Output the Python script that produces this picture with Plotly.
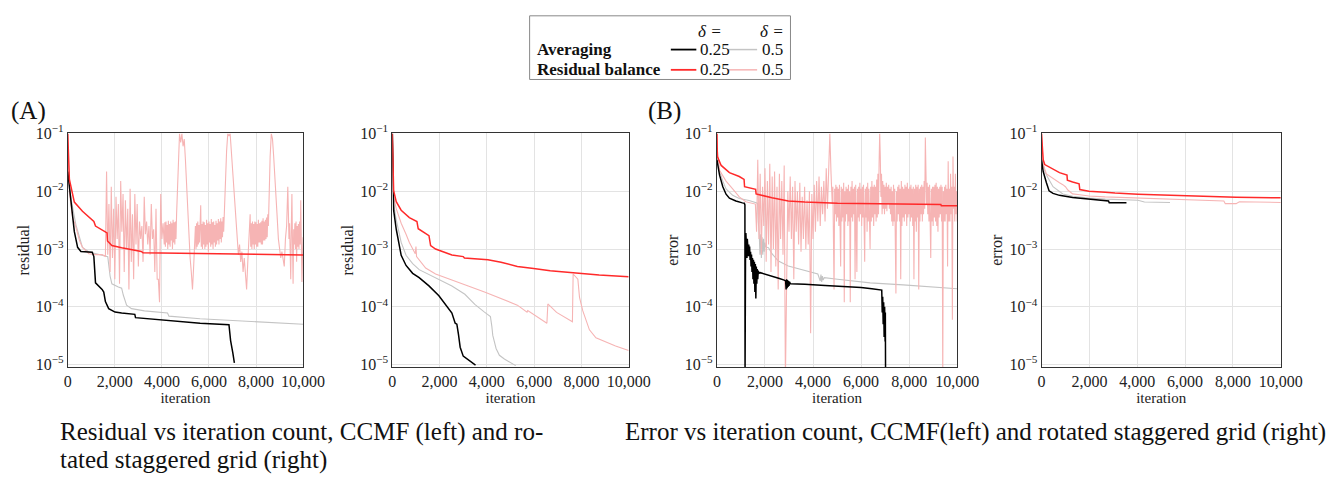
import plotly.graph_objects as go

# ---------------- data ----------------
# Panel A-left: residual, CCMF
res_ccmf_avg25_x = [0, 140, 280, 420, 560, 1040, 1110, 1180, 1320, 1460, 1530, 1600, 1740, 2010, 2290, 2850, 2880, 3960, 5625, 6850, 6920, 7014, 7080]
res_ccmf_avg25_y = [2.2e-2, 6.5e-3, 2e-3, 1.07e-3, 9.1e-4, 8.8e-4, 7.4e-4, 2.6e-4, 2.3e-4, 2e-4, 1.8e-4, 1.23e-4, 9.3e-5, 8.1e-5, 7.8e-5, 7.4e-5, 6.5e-5, 5.9e-5, 5.2e-5, 4.9e-5, 2.6e-5, 1.6e-5, 1.07e-5]

res_ccmf_avg5_x = [0, 140, 350, 625, 900, 1460, 1700, 1800, 1875, 2150, 2290, 2360, 2500, 2710, 3260, 4240, 4300, 5625, 7700, 10000]
res_ccmf_avg5_y = [2.2e-2, 7.4e-3, 2.6e-3, 1.07e-3, 8.9e-4, 7.9e-4, 7.4e-4, 3.4e-4, 2.5e-4, 2.2e-4, 2.1e-4, 1.6e-4, 1.07e-4, 9.3e-5, 8.5e-5, 7.8e-5, 6.9e-5, 6.2e-5, 5.6e-5, 5e-5]

res_ccmf_rb25_x = [0, 30, 70, 280, 625, 1110, 1180, 1670, 1690, 1875, 2290, 3125, 3200, 3960, 5625, 9236, 9300, 10000]
res_ccmf_rb25_y = [1e-1, 3e-2, 1.6e-2, 6.5e-3, 4.5e-3, 3e-3, 2.5e-3, 1.9e-3, 1.38e-3, 1.15e-3, 1.05e-3, 9.1e-4, 8.6e-4, 8.5e-4, 8.3e-4, 8.1e-4, 7.9e-4, 7.9e-4]

res_ccmf_rb5_x = ([0, 30, 70, 210, 300, 500, 625, 900, 1200, 1460, 1600]
    + list(range(1650, 4100, 50)) + list(range(4100, 4650, 25)) + list(range(4650, 5400, 50))
    + list(range(5400, 6650, 25)) + list(range(6650, 7700, 50)) + list(range(7700, 8550, 25))
    + list(range(8550, 9400, 50)) + list(range(9400, 10001, 25)))
res_ccmf_rb5_y = [1e-1, 2.5e-2, 9.5e-3, 3.4e-3, 2.8e-3, 1.4e-3, 1.07e-3, 8.3e-4, 8e-4, 8e-4, 7.5e-4,
    # 1650-4050
    2.2e-2, 8e-4, 6e-3, 4e-4, 1.2e-2, 7e-4, 5e-3, 3e-4, 8e-3, 1.5e-3,
    6e-3, 2.5e-4, 1.5e-2, 2e-3, 9e-3, 4e-4, 7e-3, 1e-3, 5e-3, 2e-4,
    1.1e-2, 6e-4, 4e-3, 3e-4, 9e-3, 1.2e-3, 6e-3, 5e-4, 3e-3, 1.5e-3,
    2.5e-3, 6e-4, 8e-3, 1.8e-3, 3e-3, 1.2e-3, 2.5e-3, 8e-4, 6e-3, 1.5e-3,
    2.2e-3, 4e-4, 5e-3, 3e-4, 3e-4, 1.2e-4, 9e-3, 1.5e-3, 2.8e-3,
    # 4100-4625
    1.2e-3, 2.9e-3, 1.1e-3, 3e-3, 1.3e-3, 2.6e-3, 1.0e-3, 3.1e-3, 1.2e-3, 2.7e-3,
    1.1e-3, 3e-3, 1.4e-3, 2.8e-3, 1.0e-3, 3.2e-3, 1.3e-3, 2.9e-3, 1.2e-3, 3e-3,
    1.5e-3, 4e-3,
    # 4650-5350
    8e-3, 4e-2, 1e-1, 7e-2, 1e-1, 6e-2, 8e-2, 3.5e-2, 1.2e-2, 4e-3, 1.5e-3, 7e-4, 4e-4, 2e-4, 5e-4,
    # 5400-6625
    1.5e-3, 2.5e-3, 1e-3, 2.8e-3, 1.1e-3, 3e-3, 1.2e-3, 2.6e-3, 1.3e-3, 3.1e-3,
    5.7e-3, 1.1e-3, 2.7e-3, 1e-3, 3e-3, 1.2e-3, 2.9e-3, 1e-3, 2.6e-3, 1.1e-3,
    3.2e-3, 1.2e-3, 2.8e-3, 9e-4, 3e-3, 1.3e-3, 2.7e-3, 1.1e-3, 3.3e-3, 1.2e-3,
    2.9e-3, 1e-3, 3e-3, 1.3e-3, 2.6e-3, 1.1e-3, 3.1e-3, 1.2e-3, 2.8e-3, 1.4e-3,
    3.3e-3, 1.2e-3, 3e-3, 1.5e-3, 3.4e-3, 1.3e-3, 3e-3, 1.6e-3, 3.6e-3, 2e-3,
    # 6650-7650
    4e-3, 1.5e-2, 5e-2, 1e-1, 9e-2, 1e-1, 5e-2, 3e-2, 1.5e-2, 6e-3,
    3e-3, 1.5e-3, 8e-4, 1.2e-3, 6e-4, 9e-4, 4e-4, 7e-4, 3e-4, 2e-4, 6e-4,
    # 7700-8525
    1.5e-3, 2.5e-3, 4e-3, 1.1e-3, 2.8e-3, 1e-3, 3e-3, 1.2e-3, 2.7e-3, 1e-3,
    3e-3, 1.2e-3, 2.9e-3, 1.1e-3, 2.7e-3, 1.1e-3, 3.2e-3, 1.3e-3, 2.8e-3, 1.3e-3,
    2.9e-3, 1.2e-3, 3.1e-3, 1.2e-3, 3.4e-3, 1.4e-3, 3e-3, 1.4e-3, 3.2e-3, 1.5e-3,
    3.5e-3, 1.6e-3, 4e-3, 2.5e-3,
    # 8550-9350
    9e-3, 4e-2, 1e-1, 8e-2, 4e-2, 2e-2, 8e-3, 3.5e-3, 1.5e-3, 1e-3,
    7e-4, 9e-4, 6e-4, 5e-4, 1.5e-3, 2.5e-3, 1.2e-2,
    # 9400-10000
    1.5e-3, 2.8e-3, 1.2e-3, 3e-4, 2.5e-3, 9e-3, 1.3e-3, 2.5e-4, 2.2e-3, 1.2e-3,
    2.8e-3, 1e-3, 3e-3, 6e-4, 2.5e-3, 1.1e-3, 2.7e-3, 1e-3, 3e-3, 1.2e-3,
    7e-3, 1.5e-3, 2.7e-4, 8e-4, 1.6e-3]

# Panel A-right: residual, rotated staggered grid
res_rsg_avg25_x = [0, 20, 55, 166, 277, 374, 580, 860, 1135, 1550, 1970, 2315, 2520, 2660, 2730, 2800, 2870, 3000, 3210, 3380, 3520]
res_rsg_avg25_y = [1e-1, 2e-2, 4.7e-3, 2.2e-3, 1.15e-3, 7.8e-4, 5.2e-4, 3.8e-4, 3.2e-4, 2.3e-4, 1.55e-4, 1e-4, 7.8e-5, 5.2e-5, 5e-5, 3.3e-5, 2e-5, 1.4e-5, 1.2e-5, 1.05e-5, 9.8e-6]

res_rsg_avg5_x = [0, 20, 55, 166, 374, 580, 860, 1135, 1830, 2520, 3070, 3490, 3900, 4150, 4210, 4250, 4390, 4530, 4740, 5010, 5220]
res_rsg_avg5_y = [1e-1, 2.5e-2, 6e-3, 3.2e-3, 1.3e-3, 7.8e-4, 5.6e-4, 4.4e-4, 3.2e-4, 2.3e-4, 1.65e-4, 1.1e-4, 8.1e-5, 6.8e-5, 4.6e-5, 3.2e-5, 1.9e-5, 1.45e-5, 1.25e-5, 1.07e-5, 9.6e-6]

res_rsg_rb25_x = [0, 55, 166, 374, 720, 1040, 1095, 1550, 1620, 1830, 2520, 3000, 3050, 4045, 4600, 5290, 5980, 6680, 7650, 8750, 10000]
res_rsg_rb25_y = [1e-1, 1.02e-2, 6.6e-3, 4.7e-3, 3.5e-3, 3e-3, 2.25e-3, 1.7e-3, 1.15e-3, 1e-3, 7.9e-4, 7.4e-4, 7e-4, 6.5e-4, 5.9e-4, 5e-4, 4.6e-4, 4.2e-4, 3.9e-4, 3.55e-4, 3.3e-4]

res_rsg_rb5_x = [0, 55, 166, 374, 580, 720, 970, 1000, 1025, 1410, 1830, 2520, 3210, 3900, 4320, 5290, 5700, 5730, 6540, 6580, 6950, 7620, 7650, 7850, 7920, 8060, 8340, 8615, 9445, 10000]
res_rsg_rb5_y = [1e-1, 7.9e-3, 5e-3, 2.8e-3, 1.8e-3, 1.3e-3, 8.3e-4, 1.1e-3, 7.4e-4, 4.7e-4, 3.7e-4, 2.95e-4, 2.3e-4, 1.8e-4, 1.55e-4, 1.07e-4, 8.1e-5, 8.6e-5, 5.2e-5, 1.12e-4, 8e-5, 5.5e-5, 3.7e-4, 3e-4, 1.45e-4, 8.5e-5, 4e-5, 2.9e-5, 2.1e-5, 1.75e-5]

# Panel B-left: error, CCMF
err_ccmf_avg25_x = [0, 60, 110, 245, 380, 520, 790, 1060, 1140, 1165, 1170, 1175, 1190, 1205, 1220, 1235, 1250, 1265, 1280, 1295, 1310, 1325,
    1340, 1360, 1380, 1400, 1420, 1440, 1460, 1480, 1500, 1520, 1540, 1560, 1580, 1600, 1620, 1640, 1660, 1680, 1700, 1720, 1750, 1800,
    1900, 2000, 2200, 2400, 2600, 2800, 2860, 2880, 2900, 2920, 2940, 2960, 2980, 3000, 3020, 3060, 3200, 3660, 4500, 5020, 6000, 6450,
    6860, 6880, 6900, 6920, 6940, 6960, 6980, 7000, 7010, 7020]
err_ccmf_avg25_y = [3.5e-2, 2.5e-2, 1.9e-2, 1.2e-2, 8.9e-3, 7.6e-3, 6.8e-3, 6.3e-3, 6.2e-3, 5.8e-3, 5e-6, 2e-3, 7.5e-4, 1.9e-3, 8e-4, 1.6e-3, 7e-4, 1.5e-3, 8.5e-4, 1.3e-3, 7.5e-4, 1.2e-3,
    7.5e-4, 1.1e-3, 6.5e-4, 9e-4, 5e-4, 8e-4, 4e-4, 7e-4, 3e-4, 6.5e-4, 2.5e-4, 6e-4, 1.8e-4, 5.5e-4, 1.4e-4, 5e-4, 2.5e-4, 4.5e-4, 3e-4, 4.2e-4, 3.8e-4, 3.9e-4,
    3.8e-4, 3.7e-4, 3.5e-4, 3.3e-4, 3.1e-4, 2.9e-4, 2.8e-4, 2e-4, 3e-4, 2.1e-4, 2.9e-4, 2.2e-4, 2.8e-4, 2.3e-4, 2.7e-4, 2.5e-4, 2.5e-4, 2.45e-4, 2.35e-4, 2.3e-4, 2.15e-4, 2.05e-4,
    1.95e-4, 8e-5, 1.5e-4, 5e-5, 1.2e-4, 3e-5, 1e-4, 2.5e-5, 8e-5, 5e-6]

err_ccmf_avg5_x = [0, 60, 110, 245, 380, 655, 930, 1340, 1610, 1690, 1720, 1760, 1790, 1820, 1850, 1880, 1910, 1940, 1970, 2000, 2020,
    2150, 2290, 2560, 2970, 3660, 4200, 4300, 4330, 4360, 4390, 4420, 4470, 5020, 6380, 7750, 10000]
err_ccmf_avg5_y = [4e-2, 2.8e-2, 2.2e-2, 1.5e-2, 1.1e-2, 8.5e-3, 7.5e-3, 6.9e-3, 6.5e-3, 6.2e-3, 3e-3, 1.9e-3, 8e-4, 1.8e-3, 7e-4, 1.6e-3, 8e-4, 1.5e-3, 9e-4, 1.3e-3, 1.1e-3,
    1.05e-3, 8.3e-4, 6.2e-4, 5.1e-4, 4.2e-4, 3.7e-4, 2.8e-4, 3.6e-4, 2.7e-4, 3.4e-4, 2.9e-4, 3.2e-4, 3e-4, 2.6e-4, 2.4e-4, 2.05e-4]

err_ccmf_rb25_x = [0, 20, 177, 520, 930, 1130, 1150, 1610, 1630, 2020, 2290, 2970, 3660, 5020, 6380, 7750, 9320, 9340, 10000]
err_ccmf_rb25_y = [1e-1, 4e-2, 2.8e-2, 2.1e-2, 1.8e-2, 1.6e-2, 1.2e-2, 1.08e-2, 9e-3, 8.2e-3, 7.7e-3, 6.8e-3, 6.5e-3, 6.2e-3, 6.1e-3, 6e-3, 5.9e-3, 5.6e-3, 5.6e-3]

err_ccmf_rb5_x = ([0, 20, 110, 380, 655, 930, 1200, 1475, 1550]
    + list(range(1600, 4800, 50)) + list(range(4800, 10001, 25)))
err_ccmf_rb5_y = [1e-1, 5e-2, 2.3e-2, 1.5e-2, 1.1e-2, 8e-3, 6.6e-3, 6.2e-3, 6e-3,
    # 1600-4750
    6e-3, 2e-3, 3.5e-2, 1.5e-3, 2e-2, 8e-4, 1.2e-2, 2.5e-3, 2.5e-2, 6e-4,
    1.5e-2, 1.2e-3, 3e-2, 4e-4, 1.8e-2, 1e-3, 2.2e-2, 5e-4, 1.2e-2, 2e-4,
    2e-2, 1.5e-3, 1.5e-2, 8e-4, 2.8e-2, 5e-6, 1.2e-3, 1e-2, 2e-3, 1.8e-2,
    1.5e-3, 1.2e-2, 3e-4, 1.5e-2, 2e-3, 1e-2, 1.2e-3, 1.4e-2, 9e-4, 8e-3,
    1.5e-3, 1.2e-2, 1e-3, 7e-3, 1.2e-3, 1e-2, 3.5e-5, 9e-3, 1.5e-3, 1.3e-2,
    2e-3, 1.5e-2, 3e-3, 1.8e-2, 2.5e-3, 1.2e-2, 4e-3, 1.5e-2, 3e-3, 2.5e-2,
    5e-3, 4e-2, 1e-1, 2e-2,
    # 4800-10000 (step 25)
    6e-3, 1.2e-2, 3e-3, 2e-4, 1.1e-2, 4e-3, 1.3e-2, 3e-3,
    1.2e-2, 3.5e-3, 1.1e-2, 2.5e-3, 1.3e-2, 4e-3, 5e-4, 1.2e-2,
    3e-3, 1.1e-2, 3.5e-3, 1.4e-2, 1.2e-4, 1e-2, 3e-3, 1.2e-2,
    4e-3, 1.1e-2, 2.5e-3, 1.3e-2, 3e-3, 1e-2, 1.2e-4, 1.2e-2,
    3.5e-3, 1.5e-2, 3e-3, 1.1e-2, 4e-3, 1.2e-2, 3e-4, 1.3e-2,
    2.5e-3, 4e-4, 1.1e-2, 3.5e-3, 1.2e-2, 3e-3, 1.4e-2, 4e-3,
    1.1e-2, 2.5e-3, 1.2e-2, 3.5e-3, 1.3e-2, 3e-3, 6e-4, 1.1e-2,
    3.5e-3, 1.2e-2, 2e-3, 1.4e-2, 3e-3, 1.1e-2, 4e-3, 1e-3,
    1.2e-2, 3e-3, 1.5e-2, 3.5e-3, 1.2e-2, 2.5e-3, 1.3e-2, 4e-3,
    1.2e-2, 3e-3, 1.6e-2, 3.5e-3, 2e-2, 4e-3, 3e-2, 1e-1,
    4e-2, 8e-3, 2e-2, 4e-3, 1.5e-2, 5e-3, 1.3e-2, 4e-3,
    1.2e-2, 5e-3, 1.4e-2, 4.5e-3, 1.2e-2, 6e-3, 1.3e-2, 5e-3,
    1.1e-2, 4e-3, 1.2e-2, 3e-3, 1e-2, 2.5e-3, 1.3e-2, 3e-3,
    1.1e-2, 2e-3, 1.7e-4, 1e-2, 3e-3, 1.2e-2, 4e-3, 1.3e-2,
    3e-3, 1.1e-2, 3e-4, 1.5e-2, 2.5e-3, 1.2e-2, 3.5e-3, 1.1e-2,
    3e-3, 1.3e-2, 4e-3, 1.2e-2, 2.5e-3, 1.4e-2, 3.5e-3, 1.1e-2,
    4e-3, 1.2e-2, 3e-3, 1.3e-2, 3.5e-3, 1.1e-2, 2.5e-3, 1.2e-2,
    3e-4, 1.1e-2, 3e-3, 1.3e-2, 2e-3, 1.2e-2, 3.5e-3, 1.3e-2,
    2e-4, 1.1e-2, 3e-3, 1.2e-2, 4e-3, 1.3e-2, 3e-3, 1.2e-2,
    4e-3, 1.5e-2, 5e-3, 8.5e-2, 2e-2, 6e-3, 1.4e-2, 4e-3,
    1.2e-2, 3e-3, 1.3e-2, 3.5e-3, 7e-4, 1.1e-2, 3e-3, 1.2e-2,
    2.5e-3, 1.2e-2, 3.5e-3, 1.3e-2, 3e-3, 1.4e-2, 2.5e-3, 1.2e-2,
    2e-3, 1.1e-2, 3.5e-3, 1.2e-2, 4e-3, 1.3e-2, 3e-3, 1.2e-2,
    5e-6, 1e-2, 3e-3, 1.2e-2, 3e-3, 1.3e-2, 4e-3, 1.1e-2,
    5e-4, 3.3e-2, 3e-3, 1.1e-2, 3e-3, 2e-2, 4e-3, 1.2e-2,
    6e-5, 4e-2, 5e-3, 1.2e-2, 3e-3, 2e-2, 4e-3, 1e-2,
    3e-3]

# Panel B-right: error, rotated staggered grid
err_rsg_avg25_x = [0, 70, 205, 315, 480, 750, 1300, 1980, 2800, 2830, 3550]
err_rsg_avg25_y = [3.5e-2, 2.2e-2, 1.4e-2, 1.02e-2, 9.2e-3, 8.5e-3, 7.8e-3, 7.4e-3, 6.8e-3, 6.3e-3, 6.3e-3]

err_rsg_avg5_x = [0, 135, 275, 480, 890, 1300, 1980, 2660, 4030, 4300, 5370]
err_rsg_avg5_y = [4e-2, 2.2e-2, 1.7e-2, 1.2e-2, 9e-3, 8.2e-3, 7.6e-3, 7.3e-3, 7e-3, 6.5e-3, 6.4e-3]

err_rsg_rb25_x = [0, 35, 70, 135, 340, 750, 1065, 1080, 1300, 1570, 1600, 1980, 2660, 3070, 4030, 5400, 6760, 8130, 10000]
err_rsg_rb25_y = [1e-1, 5e-2, 3.5e-2, 2.9e-2, 2.6e-2, 2.1e-2, 1.9e-2, 1.55e-2, 1.45e-2, 1.35e-2, 1.07e-2, 1e-2, 9.6e-3, 9.3e-3, 8.9e-3, 8.5e-3, 8.2e-3, 7.9e-3, 7.7e-3]

err_rsg_rb5_x = [0, 35, 70, 205, 480, 750, 890, 1000, 1100, 1300, 1600, 1980, 2660, 4030, 5400, 6760, 7620, 7680, 8130, 8270, 10000]
err_rsg_rb5_y = [1e-1, 4e-2, 2.9e-2, 2e-2, 1.65e-2, 1.4e-2, 1.3e-2, 1.2e-2, 1.05e-2, 9e-3, 8.7e-3, 8.3e-3, 8e-3, 7.6e-3, 7.2e-3, 6.9e-3, 6.8e-3, 6.1e-3, 6.1e-3, 6.6e-3, 6.4e-3]

x_tick_vals = [0, 2000, 4000, 6000, 8000, 10000]
x_tick_text = ["0", "2,000", "4,000", "6,000", "8,000", "10,000"]
y_tick_vals = [1e-5, 1e-4, 1e-3, 1e-2, 1e-1]
y_tick_text = ["10<sup>−5</sup>", "10<sup>−4</sup>", "10<sup>−3</sup>", "10<sup>−2</sup>", "10<sup>−1</sup>"]
y_titles = ["residual", "residual", "error", "error"]
x_title = "iteration"

# ---------------- styles ----------------
C_AVG25 = "#000000"
C_AVG5 = "#c4c4c4"
C_RB25 = "#ff2a2a"
C_RB5 = "#f6b4b4"
FONT = "Liberation Serif"

panels = [
    (res_ccmf_avg5_x, res_ccmf_avg5_y, res_ccmf_rb5_x, res_ccmf_rb5_y, res_ccmf_avg25_x, res_ccmf_avg25_y, res_ccmf_rb25_x, res_ccmf_rb25_y),
    (res_rsg_avg5_x, res_rsg_avg5_y, res_rsg_rb5_x, res_rsg_rb5_y, res_rsg_avg25_x, res_rsg_avg25_y, res_rsg_rb25_x, res_rsg_rb25_y),
    (err_ccmf_avg5_x, err_ccmf_avg5_y, err_ccmf_rb5_x, err_ccmf_rb5_y, err_ccmf_avg25_x, err_ccmf_avg25_y, err_ccmf_rb25_x, err_ccmf_rb25_y),
    (err_rsg_avg5_x, err_rsg_avg5_y, err_rsg_rb5_x, err_rsg_rb5_y, err_rsg_avg25_x, err_rsg_avg25_y, err_rsg_rb25_x, err_rsg_rb25_y),
]

W, H = 1343, 479
px_l = [65, 396, 727, 1058]
px_r = [305, 637, 972, 1302]
py_t, py_b = 127, 369

fig = go.Figure()
for i, p in enumerate(panels):
    ax = "" if i == 0 else str(i + 1)
    styles = [(C_AVG5, 1.1), (C_RB5, 1.1), (C_AVG25, 1.5), (C_RB25, 1.5)]
    for k, (c, w) in enumerate(styles):
        fig.add_trace(go.Scatter(x=p[2 * k], y=p[2 * k + 1], mode="lines",
                                 line=dict(color=c, width=w), showlegend=False,
                                 xaxis="x" + ax, yaxis="y" + ax, hoverinfo="skip"))
    fig.layout["xaxis" + ax] = dict(
        domain=[px_l[i] / W, px_r[i] / W], anchor="y" + ax, range=[0, 10000],
        tickvals=x_tick_vals, ticktext=x_tick_text, showgrid=True, gridcolor="#e3e3e3", gridwidth=1,
        showline=True, linecolor="#333", linewidth=1, mirror=True, zeroline=False,
        ticks="", tickfont=dict(family=FONT, size=16, color="#222"),
        title=dict(text=x_title, font=dict(family=FONT, size=15, color="#222"), standoff=0))
    fig.layout["yaxis" + ax] = dict(
        domain=[1 - py_b / H, 1 - py_t / H], anchor="x" + ax, type="log", range=[-5.04, -1],
        tickvals=y_tick_vals, ticktext=y_tick_text, showgrid=True, gridcolor="#e3e3e3", gridwidth=1,
        showline=True, linecolor="#333", linewidth=1, mirror=True, zeroline=False,
        ticks="", tickfont=dict(family=FONT, size=16, color="#222"),
        title=dict(text=y_titles[i], font=dict(family=FONT, size=16, color="#222"), standoff=2))

annotations = []
def txt(x, y, s, size, xanchor="left", bold=False, italic=False):
    if bold:
        s = "<b>" + s + "</b>"
    if italic:
        s = "<i>" + s + "</i>"
    annotations.append(dict(x=x / W, y=1 - y / H, xref="paper", yref="paper", text=s, showarrow=False,
                            xanchor=xanchor, yanchor="middle", font=dict(family=FONT, size=size, color="#111")))

# Panel labels and captions
txt(5, 104, "(A)", 25)
txt(655, 104, "(B)", 25)
txt(55, 436, "Residual vs iteration count, CCMF (left) and ro-", 25)
txt(55, 466, "tated staggered grid (right)", 25)
txt(631, 437, "Error vs iteration count, CCMF(left) and rotated staggered grid (right)", 25)

# Legend (drawn as box)
shapes = [dict(type="rect", xref="paper", yref="paper", x0=536 / W, x1=802 / W, y0=1 - 71 / H, y1=1 - 5 / H,
               line=dict(color="#888", width=1), fillcolor="rgba(0,0,0,0)")]
txt(720, 21, "δ =", 17, xanchor="center", italic=True)
txt(783, 21, "δ =", 17, xanchor="center", italic=True)
txt(541, 40, "Averaging", 17, bold=True)
txt(541, 61, "Residual balance", 17, bold=True)
legend_rows = [(40, C_AVG25, C_AVG5), (61, C_RB25, C_RB5)]
for yy, c1, c2 in legend_rows:
    shapes.append(dict(type="line", xref="paper", yref="paper", x0=680 / W, x1=706 / W, y0=1 - yy / H, y1=1 - yy / H,
                       line=dict(color=c1, width=1.8)))
    shapes.append(dict(type="line", xref="paper", yref="paper", x0=739 / W, x1=768 / W, y0=1 - yy / H, y1=1 - yy / H,
                       line=dict(color=c2, width=1.5)))
    txt(708, yy, "0.25", 17)
    txt(771, yy, "0.5", 17)

fig.update_layout(width=W, height=H, margin=dict(l=0, r=0, t=0, b=0), paper_bgcolor="white",
                  plot_bgcolor="white", annotations=annotations, shapes=shapes, showlegend=False)
fig.write_html("out.html")
